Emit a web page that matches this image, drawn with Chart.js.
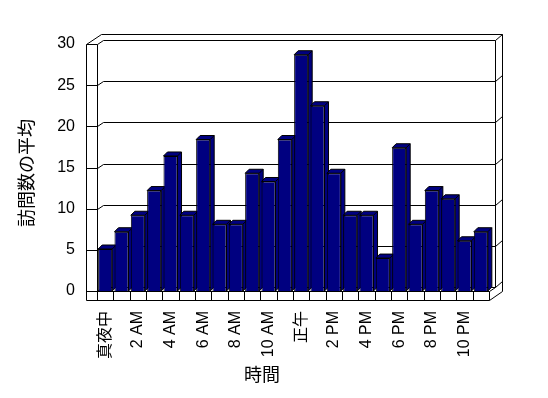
<!DOCTYPE html>
<html>
<head>
<meta charset="utf-8">
<script src="https://cdn.jsdelivr.net/npm/chart.js@4.4.0/dist/chart.umd.min.js"></script>
<style>
  html, body { margin: 0; padding: 0; background: #fff; }
  #wrap { width: 548px; height: 398px; }
</style>
</head>
<body>
<div id="wrap"><canvas id="chart"></canvas></div>
<script>
const hours = ['真夜中', '1 AM', '2 AM', '3 AM', '4 AM', '5 AM', '6 AM', '7 AM', '8 AM', '9 AM', '10 AM', '11 AM',
  '正午', '1 PM', '2 PM', '3 PM', '4 PM', '5 PM', '6 PM', '7 PM', '8 PM', '9 PM', '10 PM', '11 PM'];
const visits = [5.1, 7.2, 9.2, 12.2, 16.4, 9.2, 18.4, 8.1, 8.1, 14.3, 13.3, 18.4,
  28.7, 22.5, 14.3, 9.2, 9.2, 4.0, 17.4, 8.1, 12.2, 11.2, 6.1, 7.2];
const yTicks = [0, 5, 10, 15, 20, 25, 30];
const xTitle = '時間';
const yTitle = '訪問数の平均';

const FONT = 'Arial, "Liberation Sans", "Noto Sans CJK JP", sans-serif';
const NAVY = '#000080';

// pseudo 3d box: walls, floor and bar sides
const box3d = {
  id: 'box3d',
  beforeDatasetsDraw(chart) {
    const ctx = chart.ctx;
    const ca = chart.chartArea;
    const xs = chart.scales.x, ys = chart.scales.y;
    const L = ca.left, R = ca.right, T = ca.top, B = ca.bottom;
    const wl = L - 11;
    const p = v => Math.round(v) + 0.5;
    const line = (pts) => {
      ctx.beginPath();
      pts.forEach((pt, i) => i ? ctx.lineTo(p(pt[0]), p(pt[1])) : ctx.moveTo(p(pt[0]), p(pt[1])));
      ctx.stroke();
    };
    ctx.save();
    ctx.strokeStyle = '#000';
    ctx.lineWidth = 1;
    // outer shell
    line([[wl, B + 9], [wl, T], [wl + 15, T - 10], [R + 13, T - 10], [R + 13, B], [R, B + 9], [wl, B + 9]]);
    // walls inner edges
    line([[L, T], [L, B]]);
    line([[R + 6, T - 4], [R + 6, B - 4], [R, B]]);
    line([[wl, B], [R, B]]);
    // gridlines
    yTicks.forEach(v => {
      const py = ys.getPixelForValue(v);
      line([[wl, py], [L, py], [L + 6, py - 4], [R + 6, py - 4], [R + 13, py - 10]]);
    });
    // floor divisions
    const cw = (R - L) / hours.length;
    for (let i = 0; i <= hours.length; i++) {
      const bx = i < hours.length ? xs.getPixelForValue(i) - cw / 2 : R;
      line([[bx, B], [bx, B + 9]]);
    }
    // bar tops and sides
    const dx = 4, dy = -4;
    chart.getDatasetMeta(0).data.forEach(bar => {
      const l = bar.x - bar.width / 2, r = bar.x + bar.width / 2;
      const t = bar.y, b = bar.base;
      ctx.fillStyle = NAVY;
      ctx.beginPath();
      ctx.moveTo(l, t); ctx.lineTo(l + dx, t + dy); ctx.lineTo(r + dx, t + dy);
      ctx.lineTo(r + dx, b + dy); ctx.lineTo(r, b); ctx.lineTo(r, t); ctx.closePath();
      ctx.fill();
      ctx.stroke();
      ctx.beginPath();
      ctx.moveTo(r, t); ctx.lineTo(r + dx, t + dy);
      ctx.stroke();
    });
    ctx.restore();
  },
  afterDraw(chart) {
    const ctx = chart.ctx;
    ctx.save();
    ctx.fillStyle = '#000';
    ctx.font = '18px ' + FONT;
    ctx.textAlign = 'center';
    ctx.textBaseline = 'middle';
    ctx.fillText(xTitle, 262, 376);
    ctx.translate(28, 173);
    ctx.rotate(-Math.PI / 2);
    ctx.fillText(yTitle, 0, 0);
    ctx.restore();
  }
};

new Chart(document.getElementById('chart'), {
  type: 'bar',
  data: {
    labels: hours,
    datasets: [{
      data: visits,
      backgroundColor: NAVY,
      borderColor: '#000',
      borderWidth: 1,
      barPercentage: 0.86,
      categoryPercentage: 1.0
    }]
  },
  options: {
    responsive: true,
    maintainAspectRatio: false,
    animation: false,
    layout: { padding: { left: 0, right: 59, top: 44, bottom: 0 } },
    plugins: { legend: { display: false }, tooltip: { enabled: false } },
    scales: {
      x: {
        grid: { display: false, drawTicks: false },
        border: { display: false },
        ticks: {
          autoSkip: false,
          minRotation: 90,
          maxRotation: 90,
          padding: 20,
          color: '#000',
          font: { family: FONT, size: 16 },
          callback: (v, i) => i % 2 === 0 ? hours[i] : ''
        },
        afterFit: s => { s.height = 107; }
      },
      y: {
        min: 0,
        max: 30,
        grid: { display: false, drawTicks: false },
        border: { display: false },
        ticks: {
          stepSize: 5,
          padding: 22,
          color: '#000',
          font: { family: FONT, size: 16 }
        },
        afterFit: s => { s.width = 97; }
      }
    }
  },
  plugins: [box3d]
});
</script>
</body>
</html>
